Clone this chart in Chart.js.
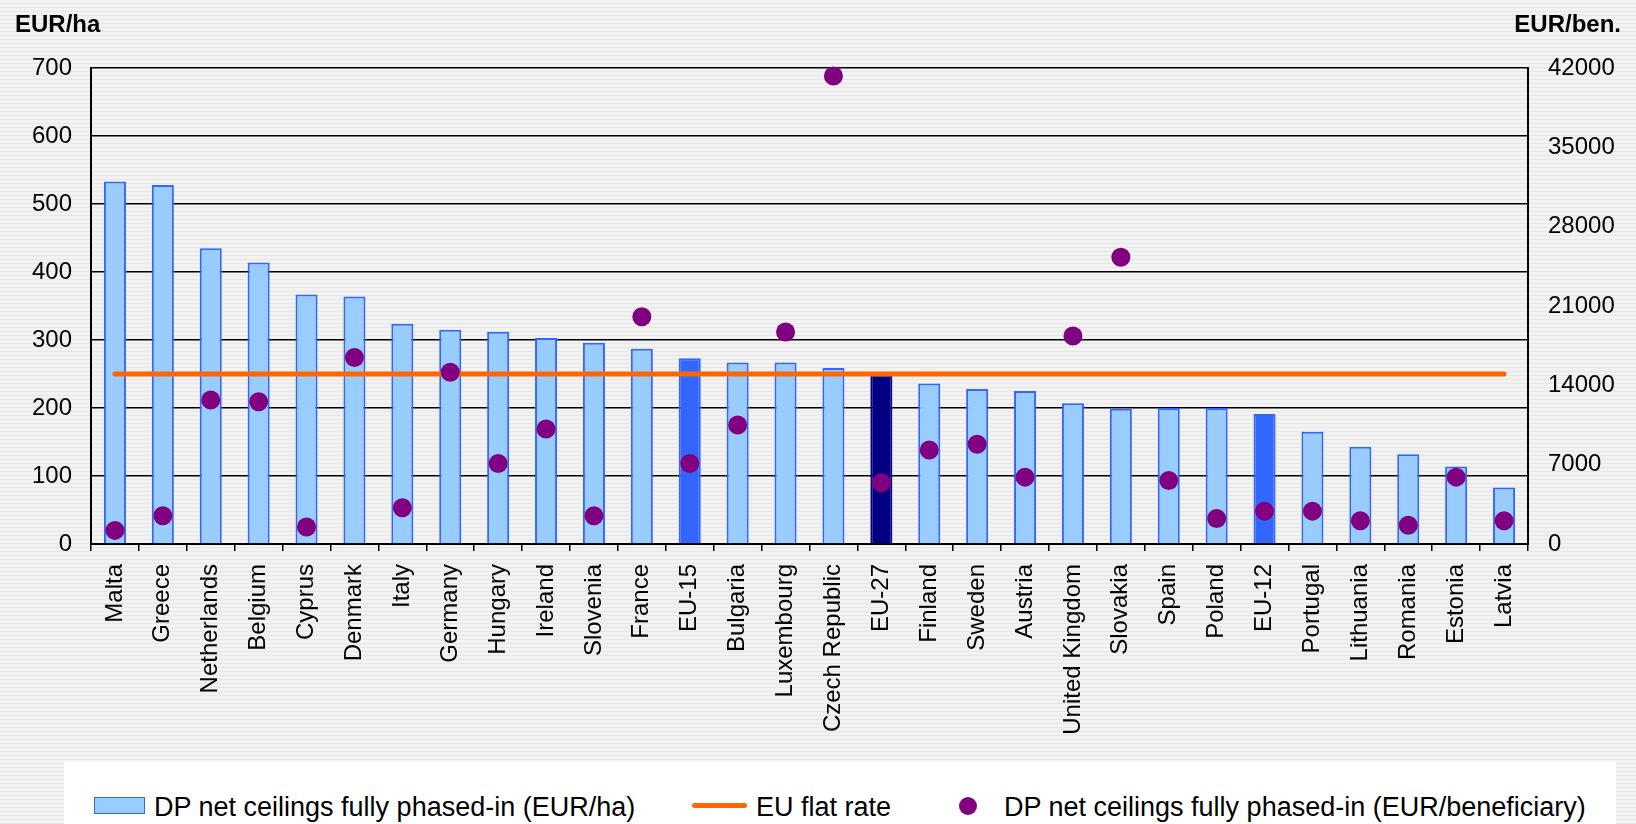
<!DOCTYPE html>
<html>
<head>
<meta charset="utf-8">
<script src="https://cdn.jsdelivr.net/npm/chart.js@4.4.1/dist/chart.umd.min.js"></script>
<style>
  body {
    margin: 0;
    width: 1636px;
    height: 824px;
    overflow: hidden;
    font-family: "Liberation Sans", Arial, sans-serif;
    background: repeating-linear-gradient(to bottom, #f2f2f2 0px, #f2f2f2 3px, #e7e7e7 3px, #e7e7e7 4px);
  }
  #wrap { position: relative; width: 1636px; height: 824px; }
  #chart { position: absolute; left: 0; top: 0; }
  .unit { position: absolute; top: 12px; font-size: 24px; line-height: 24px; font-weight: bold; color: #000; }
  #legend { position: absolute; left: 64px; top: 762px; width: 1552px; height: 62px; background: #fff; }
  .lg-text { position: absolute; top: 32px; font-size: 27px; line-height: 27px; color: #000; white-space: nowrap; }
  .lg-box { position: absolute; left: 30px; top: 35px; width: 49px; height: 15px; background: #99ccff; border: 1.5px solid #3366ff; }
  .lg-line { position: absolute; left: 628px; top: 41px; width: 55px; height: 5px; background: #ff6600; border-radius: 3px; }
  .lg-dot { position: absolute; left: 895px; top: 35px; width: 18px; height: 18px; border-radius: 50%; background: #800080; }
</style>
</head>
<body>
<div id="wrap">
  <canvas id="chart" width="1636" height="824"></canvas>
  <div class="unit" style="left:15px">EUR/ha</div>
  <div class="unit" style="right:15px">EUR/ben.</div>
  <div id="legend">
    <div class="lg-box"></div>
    <div class="lg-text" style="left:90px">DP net ceilings fully phased-in (EUR/ha)</div>
    <div class="lg-line"></div>
    <div class="lg-text" style="left:692px">EU flat rate</div>
    <div class="lg-dot"></div>
    <div class="lg-text" style="left:940px">DP net ceilings fully phased-in (EUR/beneficiary)</div>
  </div>
</div>
<script>
const categories = ['Malta', 'Greece', 'Netherlands', 'Belgium', 'Cyprus', 'Denmark', 'Italy', 'Germany',
    'Hungary', 'Ireland', 'Slovenia', 'France', 'EU-15', 'Bulgaria', 'Luxembourg', 'Czech Republic', 'EU-27',
    'Finland', 'Sweden', 'Austria', 'United Kingdom', 'Slovakia', 'Spain', 'Poland', 'EU-12', 'Portugal',
    'Lithuania', 'Romania', 'Estonia', 'Latvia']

// EUR/ha, left axis
const ceilingsPerHa = [533, 528, 435, 414, 367, 364, 324, 315, 312, 303, 296, 287, 273, 267, 267, 259, 249,
    236, 228, 225, 207, 199, 200, 200, 191, 165, 143, 132, 114, 83]

// EUR/beneficiary, right axis
const ceilingsPerBen = [1200, 2500, 12700, 12550, 1500, 16450, 3200, 15150, 7100, 10150, 2500, 20050, 7100,
    10500, 18700, 41300, 5400, 8300, 8800, 5900, 18350, 25300, 5600, 2250, 2900, 2900, 2050, 1650, 5900, 2050]

const flatRate = [250, 250, 250, 250, 250, 250, 250, 250, 250, 250, 250, 250, 250, 250, 250, 250, 250, 250,
    250, 250, 250, 250, 250, 250, 250, 250, 250, 250, 250, 250]

const leftTicks = [0, 100, 200, 300, 400, 500, 600, 700]
const rightTicks = [0, 7000, 14000, 21000, 28000, 35000, 42000]

const barFill = categories.map(c => {
    if (c === 'EU-27') return '#000080'
    if (c === 'EU-15' || c === 'EU-12') return '#3366ff'
    return '#99ccff'
})
const barBorder = categories.map(c => c === 'EU-27' ? '#000080' : '#3366ff')

Chart.defaults.font.family = '"Liberation Sans", Arial, sans-serif'
Chart.defaults.color = '#000'

const tickFont = { size: 24 }

new Chart('chart', {
    data: {
        labels: categories,
        datasets: [
            {
                type: 'line',
                label: 'DP net ceilings fully phased-in (EUR/beneficiary)',
                data: ceilingsPerBen,
                yAxisID: 'y1',
                showLine: false,
                pointRadius: 9.5,
                pointBackgroundColor: '#800080',
                pointBorderWidth: 0,
                clip: false,
                order: 1
            },
            {
                type: 'line',
                label: 'EU flat rate',
                data: flatRate,
                yAxisID: 'y',
                borderColor: '#ff6600',
                borderWidth: 5,
                borderCapStyle: 'round',
                pointRadius: 0,
                order: 2
            },
            {
                type: 'bar',
                label: 'DP net ceilings fully phased-in (EUR/ha)',
                data: ceilingsPerHa,
                yAxisID: 'y',
                backgroundColor: barFill,
                borderColor: barBorder,
                borderWidth: 2,
                borderSkipped: 'bottom',
                categoryPercentage: 1,
                barPercentage: 0.46,
                order: 3
            }
        ]
    },
    options: {
        responsive: false,
        animation: false,
        layout: { padding: { top: 68, left: 0, right: 0, bottom: 0 } },
        plugins: {
            legend: { display: false },
            tooltip: { enabled: false }
        },
        scales: {
            x: {
                offset: true,
                grid: { offset: true, drawOnChartArea: false, drawTicks: true, tickLength: 7, color: '#000', lineWidth: 1.5 },
                border: { display: true, color: '#000', width: 2 },
                ticks: { autoSkip: false, minRotation: 90, maxRotation: 90, padding: 13, font: tickFont },
                afterFit: scale => { scale.height = 280 }
            },
            y: {
                position: 'left',
                min: 0,
                max: 700,
                afterBuildTicks: scale => { scale.ticks = leftTicks.map(v => ({ value: v })) },
                grid: { color: '#000', lineWidth: 1.5, drawTicks: false },
                border: { display: true, color: '#000', width: 2 },
                ticks: { padding: 19, font: tickFont, callback: v => String(v) },
                afterFit: scale => { scale.width = 91 }
            },
            y1: {
                position: 'right',
                min: 0,
                max: 42000,
                afterBuildTicks: scale => { scale.ticks = rightTicks.map(v => ({ value: v })) },
                grid: { drawOnChartArea: false, drawTicks: false },
                border: { display: true, color: '#000', width: 2 },
                ticks: { padding: 20, font: tickFont, callback: v => String(v) },
                afterFit: scale => { scale.width = 108 }
            }
        }
    }
})
</script>
</body>
</html>
